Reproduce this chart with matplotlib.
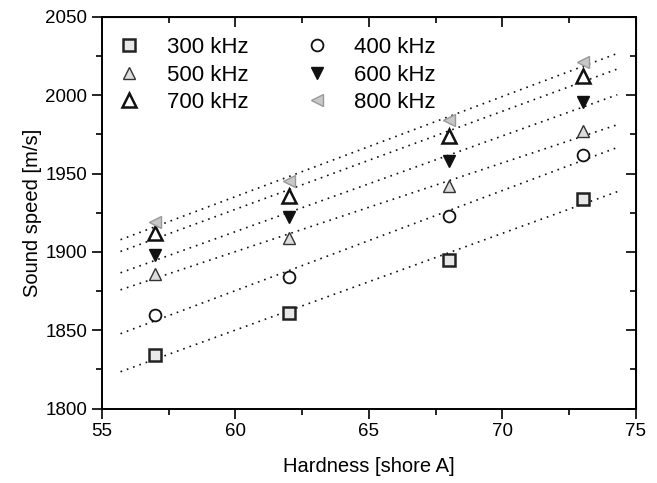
import numpy as np
import matplotlib.pyplot as plt
from matplotlib.ticker import MultipleLocator

plt.rcParams['font.family'] = ['Liberation Sans', 'DejaVu Sans']

hardness = [57, 62, 68, 73]
freqs = ['300 kHz', '400 kHz', '500 kHz', '600 kHz', '700 kHz', '800 kHz']
speed_300 = [1834, 1861, 1895, 1934]
speed_400 = [1860, 1884, 1923, 1962]
speed_500 = [1886, 1909, 1942, 1977]
speed_600 = [1898, 1922, 1958, 1996]
speed_700 = [1912, 1936, 1974, 2012]
speed_800 = [1919, 1945, 1984, 2021]
speeds = [speed_300, speed_400, speed_500, speed_600, speed_700, speed_800]

styles = [
    dict(marker='s', ms=8.5, mfc='#e8e8e8', mec='#222222', mew=1.8),
    dict(marker='o', ms=8.5, mfc='white', mec='#111111', mew=1.3),
    dict(marker='^', ms=8.5, mfc='#dddddd', mec='#333333', mew=1.0),
    dict(marker='v', ms=9, mfc='#111111', mec='#111111', mew=1.0),
    dict(marker='^', ms=10.5, mfc='white', mec='#111111', mew=1.8),
    dict(marker='<', ms=8.5, mfc='#c8c8c8', mec='#999999', mew=1.0),
]

fig = plt.figure(figsize=(6.57, 4.83), dpi=100)
ax = fig.add_axes([0.155, 0.154, 0.813, 0.811])

xfit = np.array([55.7, 74.3])
handles = []
for lab, y, st in zip(freqs, speeds, styles):
    k, b = np.polyfit(hardness, y, 1)
    ax.plot(xfit, k * xfit + b, color='#111111', lw=1.2, ls=(0, (1, 3)), zorder=1)
    h, = ax.plot(hardness, y, ls='none', label=lab, zorder=3, **st)
    handles.append(h)

order = [0, 2, 4, 1, 3, 5]
ax.legend([handles[i] for i in order], [freqs[i] for i in order], ncol=2,
          loc='upper left', bbox_to_anchor=(-0.015, 1.0), frameon=False,
          fontsize=16, handletextpad=1.0, columnspacing=2.35,
          labelspacing=0.3, handlelength=1.4)

ax.set_xlim(55, 75)
ax.set_ylim(1800, 2050)
ax.xaxis.set_major_locator(MultipleLocator(5))
ax.xaxis.set_minor_locator(MultipleLocator(2.5))
ax.yaxis.set_major_locator(MultipleLocator(50))
ax.yaxis.set_minor_locator(MultipleLocator(25))
ax.tick_params(which='both', direction='out', labelsize=13.5, width=1.2)
ax.tick_params(which='major', length=7)
ax.tick_params(which='minor', length=4)
for s in ax.spines.values():
    s.set_linewidth(1.4)

# mirrored inward ticks on top and right
sec_x = ax.secondary_xaxis('top')
sec_x.xaxis.set_major_locator(MultipleLocator(5))
sec_x.xaxis.set_minor_locator(MultipleLocator(2.5))
sec_x.tick_params(which='both', direction='in', labeltop=False, width=1.2)
sec_x.tick_params(which='major', length=7)
sec_x.tick_params(which='minor', length=4)
sec_y = ax.secondary_yaxis('right')
sec_y.yaxis.set_major_locator(MultipleLocator(50))
sec_y.yaxis.set_minor_locator(MultipleLocator(25))
sec_y.tick_params(which='both', direction='in', labelright=False, width=1.2)
sec_y.tick_params(which='major', length=7)
sec_y.tick_params(which='minor', length=4)

ax.set_xlabel('Hardness [shore A]', fontsize=14.5, labelpad=12)
ax.set_ylabel('Sound speed [m/s]', fontsize=14.5, labelpad=2)

fig.savefig('out.png', dpi=100)
